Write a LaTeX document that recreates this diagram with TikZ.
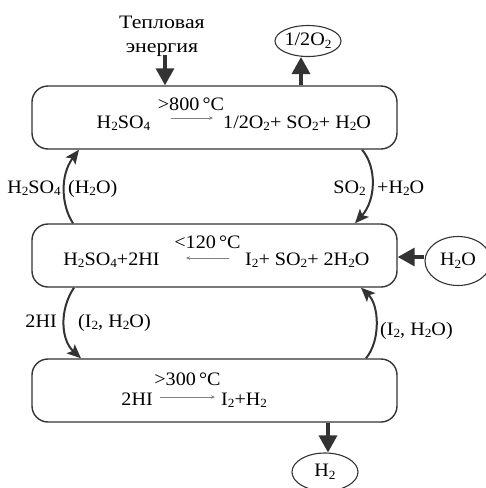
\documentclass[tikz,border=0pt]{standalone}
\usepackage{fontspec}
\setmainfont[FakeStretch=1.06]{Liberation Serif}
\newfontfamily\cyr[FakeStretch=1.15]{Liberation Serif}
\usetikzlibrary{arrows.meta,shapes.geometric}
\newcommand\lo[1]{\raisebox{-0.3ex}{\fontsize{12.5}{12.5}\selectfont #1}}
\definecolor{ln}{HTML}{333333}
\begin{document}
\begin{tikzpicture}[x=1pt,y=-1pt,
  every node/.style={font=\fontsize{19}{23}\selectfont, inner sep=0pt, text=black},
  proc/.style={draw=ln, line width=1.4pt, rounded corners=16pt, minimum width=365pt, minimum height=63pt},
  prod/.style={draw=ln, line width=1.1pt, ellipse, inner sep=-6pt},
  bigarrow/.style={draw=ln, line width=3.3pt, -{Triangle[length=17pt,width=18pt]}},
  cyc/.style={draw=ln, line width=2pt, -{Stealth[length=14pt,width=12pt,inset=3pt]}},
  rx/.style={draw=gray, line width=0.7pt, -{Stealth[length=4pt,width=3.5pt]}},
  lbl/.style={anchor=base}]
\useasboundingbox (0,0) rectangle (486,488);
% boxes
\node[proc] (b1) at (214.5,117.5) {};
\node[proc] (b2) at (214.5,255.5) {};
\node[proc] (b3) at (214.5,390.5) {};
% ellipses
\node[prod, minimum width=66pt, minimum height=31pt] (o2) at (308,41) {1/2O\lo{2}};
\node[prod, minimum width=66pt, minimum height=49pt] (h2o) at (458,261) {H\lo{2}O};
\node[prod, minimum width=66pt, minimum height=38pt] (h2) at (325,472) {H\lo{2}};
% heat
\node[lbl] (heat1) at (162,28) {\cyr Тепловая};
\node[lbl] (heat2) at (162,52) {\cyr энергия};
\coordinate (hs) at (165,55);
\draw[bigarrow] (hs) -- (b1.north -| 165,0);
% outflows
\draw[bigarrow] (b1.north -| 301,0) -- (o2.south -| 301,0);
\draw[bigarrow] (h2o.west |- 0,257) -- (b2.east |- 0,257);
\draw[bigarrow] (b3.south -| 328,0) -- (h2.north -| 328,0);
% box1 text
\node[lbl] (t1a) at (191,110) {>800\,°C};
\node[lbl] (t1b) at (123.5,128) {H\lo{2}SO\lo{4}};
\node[lbl,anchor=base west] (t1c) at (223,128) {1/2O\lo{2}+ SO\lo{2}+ H\lo{2}O};
\coordinate (r1s) at (171,118);
\coordinate (r1e) at (213,118);
\draw[rx] (r1s) -- (r1e);
% box2 text
\node[lbl] (t2a) at (207.5,248) {<120\,°C};
\node[lbl] (t2b) at (111.5,265) {H\lo{2}SO\lo{4}+2HI};
\node[lbl,anchor=base west] (t2c) at (245,265) {I\lo{2}+ SO\lo{2}+ 2H\lo{2}O};
\coordinate (r2s) at (229,258);
\coordinate (r2e) at (186,258);
\draw[rx] (r2s) -- (r2e);
% box3 text
\node[lbl] (t3a) at (187.5,385) {>300\,°C};
\node[lbl,anchor=base east] (t3b) at (153,405) {2HI};
\node[lbl,anchor=base west] (t3c) at (221,405) {I\lo{2}+H\lo{2}};
\coordinate (r3s) at (160,397);
\coordinate (r3e) at (215,397);
\draw[rx] (r3s) -- (r3e);
% cycle arrows
\draw[cyc] (b2.north -| 73,0) .. controls (61,205) and (60,175) .. (b1.south -| 79,0);
\draw[cyc] (b1.south -| 362,0) .. controls (377,167) and (376,200) .. (b2.north -| 355,0);
\draw[cyc] (b2.south -| 74,0) .. controls (59,310) and (61,340) .. (b3.north -| 81,0);
\draw[cyc] (b3.north -| 366,0) .. controls (381,340) and (379,305) .. (b2.south -| 361,0);
% cycle labels
\node[lbl,anchor=base east] (l1a) at (61,193) {H\lo{2}SO\lo{4}};
\node[lbl,anchor=base west] (l1b) at (68,193) {(H\lo{2}O)};
\node[lbl,anchor=base east] (l2a) at (366,193) {SO\lo{2}};
\node[lbl,anchor=base west] (l2b) at (377,193) {+H\lo{2}O};
\node[lbl,anchor=base east] (l3a) at (57,327) {2HI};
\node[lbl,anchor=base west] (l3b) at (78,327) {(I\lo{2}, H\lo{2}O)};
\node[lbl,anchor=base west] (l4a) at (380,335) {(I\lo{2}, H\lo{2}O)};
\end{tikzpicture}
\end{document}
